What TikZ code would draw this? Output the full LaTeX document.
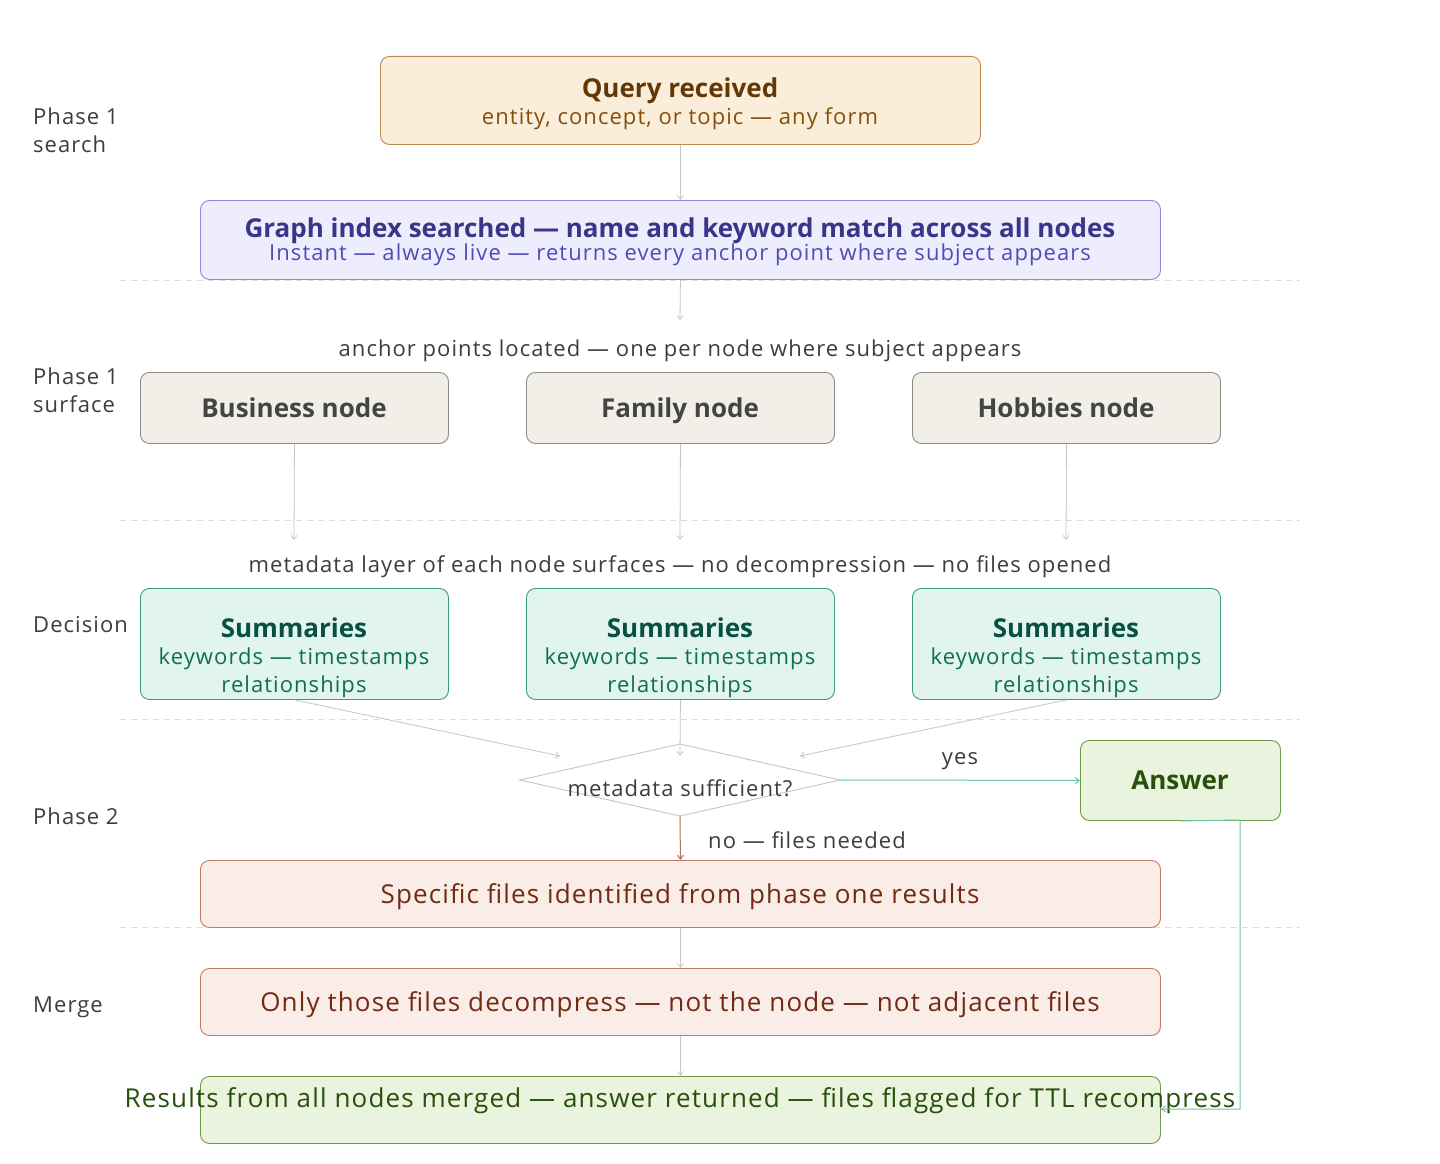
\documentclass[tikz,border=0pt]{standalone}
\usepackage{fontspec}
\setmainfont{Open Sans}
\newfontfamily\trk[LetterSpace=4.8]{Open Sans}
\newfontfamily\trkb[LetterSpace=4.4]{Open Sans}
\usetikzlibrary{arrows.meta,shapes.geometric}
\definecolor{grayline}{HTML}{C6C6C2}
\definecolor{sepline}{HTML}{DCDCD8}
\definecolor{labtext}{HTML}{3D3D3A}
\definecolor{qfill}{HTML}{FAEEDA}
\definecolor{qdraw}{HTML}{BA8A52}
\definecolor{qtitle}{HTML}{633806}
\definecolor{qsub}{HTML}{854F0B}
\definecolor{gfill}{HTML}{EEEDFE}
\definecolor{gdraw}{HTML}{8F88E0}
\definecolor{gtitle}{HTML}{3C3489}
\definecolor{gsub}{HTML}{534AB7}
\definecolor{nfill}{HTML}{F1EFE8}
\definecolor{ndraw}{HTML}{8C8B84}
\definecolor{ntext}{HTML}{444441}
\definecolor{sfill}{HTML}{E1F5EE}
\definecolor{sdraw}{HTML}{3E9A7C}
\definecolor{stitle}{HTML}{085041}
\definecolor{ssub}{HTML}{0F6E56}
\definecolor{afill}{HTML}{EAF3DE}
\definecolor{adraw}{HTML}{6E9A48}
\definecolor{atext}{HTML}{27500A}
\definecolor{rfill}{HTML}{FAECE7}
\definecolor{rdraw}{HTML}{C07A62}
\definecolor{rtext}{HTML}{712B13}
\definecolor{teal}{HTML}{6CC5A8}
\definecolor{noline}{HTML}{B5705A}
\begin{document}
\begin{tikzpicture}[x=1pt,y=-1pt,
  box/.style={draw,rounded corners=9pt,line width=0.9pt,inner sep=0pt,anchor=north west},
  arr/.style={-{Straight Barb[length=4pt,width=6pt]},line width=0.8pt,draw=grayline},
  sep/.style={draw=sepline,dash pattern=on 6pt off 5pt,line width=0.9pt},
  lab/.style={font=\trk\fontsize{22}{28}\selectfont,text=labtext,align=left,anchor=base west,inner sep=0pt},
  ttl/.style={font=\fontsize{26}{30}\selectfont\bfseries,inner sep=0pt,anchor=base},
  sub/.style={font=\trk\fontsize{22}{28}\selectfont,inner sep=0pt,anchor=base},
  big/.style={font=\trkb\fontsize{26}{30}\selectfont,inner sep=0pt,anchor=base},
]
\useasboundingbox[fill=white] (0,0) rectangle (1440,1164);

% separators
\foreach \yy in {280,520,719,927} \draw[sep] (120,\yy) -- (1300,\yy);

% phase labels
\node[lab] (l1a) at (33,124) {Phase 1};
\node[lab] (l1b) at (33,152) {search};
\node[lab] (l2a) at (33,384) {Phase 1};
\node[lab] (l2b) at (33,412) {surface};
\node[lab] (l3) at (33,632) {Decision};
\node[lab] (l4) at (33,824) {Phase 2};
\node[lab] (l5) at (33,1012) {Merge};

% query
\node[box,fill=qfill,draw=qdraw,minimum width=600pt,minimum height=88pt] (q) at (380,56) {};
\node[ttl,text=qtitle] (qt) at (680,97) {Query received};
\node[sub,text=qsub] (qs) at (680,124) {entity, concept, or topic — any form};

% graph index
\node[box,fill=gfill,draw=gdraw,minimum width=960pt,minimum height=79pt] (g) at (200,200) {};
\node[ttl,text=gtitle] (gt) at (680,237) {Graph index searched — name and keyword match across all nodes};
\node[sub,text=gsub] (gs) at (680,260) {Instant — always live — returns every anchor point where subject appears};

\coordinate (ga) at (680,320);
\node[sub,text=labtext] (al) at (680,356) {anchor points located — one per node where subject appears};

% nodes
\foreach \nm/\xx/\tx in {b/140/Business node,f/526/Family node,h/912/Hobbies node}{
  \node[box,fill=nfill,draw=ndraw,minimum width=308pt,minimum height=71pt] (\nm) at (\xx,372) {};
  \node[ttl,text=ntext] (\nm t) at ([xshift=154pt]\xx,417) {\tx};
  \coordinate (\nm e) at ([xshift=154pt]\xx,540);
}
\node[sub,text=labtext] (ml) at (680,572) {metadata layer of each node surfaces — no decompression — no files opened};

% summaries
\foreach \nm/\xx in {s1/140,s2/526,s3/912}{
  \node[box,fill=sfill,draw=sdraw,minimum width=308pt,minimum height=111pt] (\nm) at (\xx,588) {};
  \node[ttl,text=stitle] (\nm t) at ([xshift=154pt]\xx,637) {Summaries};
  \node[sub,text=ssub] (\nm a) at ([xshift=154pt]\xx,664) {keywords — timestamps};
  \node[sub,text=ssub] (\nm b) at ([xshift=154pt]\xx,692) {relationships};
}

% diamond
\coordinate (dl) at (520,780);
\coordinate (dt) at (680,744);
\coordinate (dr) at (840,780);
\coordinate (db) at (680,816);
\draw[draw=grayline,line width=0.9pt] (dl) -- (dt) -- (dr) -- (db) -- cycle;
\node[sub,text=labtext] (dq) at (680,796) {metadata sufficient?};
\coordinate (d1) at (560,756);
\coordinate (d2) at (680,756);
\coordinate (d3) at (800,756);

% answer
\node[box,fill=afill,draw=adraw,minimum width=200pt,minimum height=80pt] (ans) at (1080,740) {};
\node[ttl,text=atext] (anst) at (1180,789) {Answer};
\node[sub,text=labtext] (yes) at (960,764) {yes};
\node[sub,text=labtext,anchor=base west] (no) at (708,848) {no — files needed};

% phase 2
\node[box,fill=rfill,draw=rdraw,minimum width=960pt,minimum height=67pt] (sf) at (200,860) {};
\node[big,text=rtext] (sft) at (680,903) {Specific files identified from phase one results};
\node[box,fill=rfill,draw=rdraw,minimum width=960pt,minimum height=67pt] (od) at (200,968) {};
\node[big,text=rtext] (odt) at (680,1011) {Only those files decompress — not the node — not adjacent files};
\node[box,fill=afill,draw=adraw,minimum width=960pt,minimum height=67pt] (res) at (200,1076) {};
\node[big,text=atext] (rest) at (680,1107) {Results from all nodes merged — answer returned — files flagged for TTL recompress};

% connectors
\draw[arr] (q.south) -- (g.north);
\draw[arr] (g.south) -- (ga);
\draw[arr] (b.south) -- (be);
\draw[arr] (f.south) -- (fe);
\draw[arr] (h.south) -- (he);
\draw[arr] (s1.south) -- (d1);
\draw[arr] (s2.south) -- (d2);
\draw[arr] (s3.south) -- (d3);
\draw[-{Straight Barb[length=4pt,width=6pt]},line width=1pt,draw=teal] (dr) -- (ans.west);
\draw[-{Straight Barb[length=4pt,width=6pt]},line width=1pt,draw=noline] (db) -- (sf.north);
\draw[arr] (sf.south) -- (od.north);
\draw[arr] (od.south) -- (res.north);
\draw[-{Straight Barb[length=4pt,width=6pt]},line width=1pt,draw=teal] (ans.south) -- (1240,820) -- (1240,1109) -- (res.east |- 0,1109);
\end{tikzpicture}
\end{document}
